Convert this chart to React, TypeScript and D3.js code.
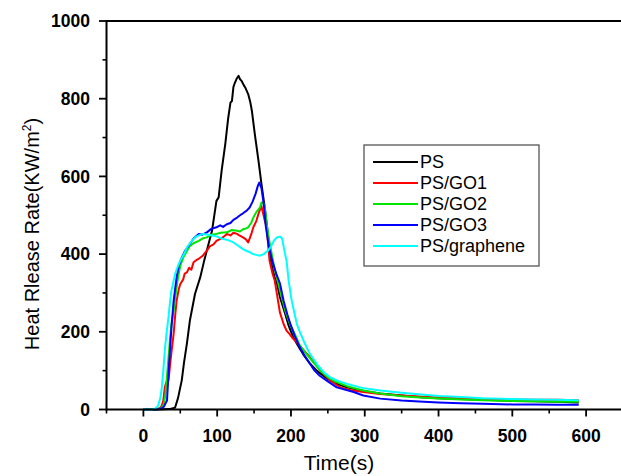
import React from "react";
import * as d3 from "d3";

const W = 621;
const H = 476;

const seriesNames = ["PS", "PS/GO1", "PS/GO2", "PS/GO3", "PS/graphene"];
const seriesColors = ["#000000", "#ff0000", "#00e600", "#0000ff", "#00ffff"];

const psData: [number, number][] = [
  [0, 0], [20, 0], [35, 1], [40, 3], [43, 5], [47, 30], [52, 75], [55, 120], [59, 170], [63, 229], [70, 298], [77, 340], [82, 380], [86, 409], [93, 460], [99, 537], [102, 546], [106, 614], [111, 684], [115, 751], [118, 790], [120, 794], [122, 830], [124, 841], [126, 850], [129, 859], [131, 850], [133, 846], [136, 835], [138, 829], [142, 812], [145, 790], [147, 769], [151, 709], [156, 640], [160, 581], [165, 512], [170, 430], [174, 370], [178, 340], [181, 325], [185, 290], [192, 247], [197, 215], [203, 186], [210, 163], [216, 144], [225, 120], [235, 100], [245, 85], [253, 75], [265, 64], [276, 57], [300, 47], [321, 41], [350, 36], [380, 31], [400, 29], [430, 27], [460, 25], [500, 22], [530, 21], [560, 20], [590, 18],
];

const go1Data: [number, number][] = [
  [0, 0], [15, 0], [22, 3], [25, 10], [27, 23], [29, 57], [31, 70], [34, 75], [37, 130], [41, 195], [43, 240], [45, 280], [48, 310], [50, 323], [54, 335], [56, 350], [59, 353], [62, 365], [65, 360], [68, 379], [72, 385], [75, 388], [80, 395], [86, 409], [90, 420], [95, 425], [99, 434], [105, 440], [109, 445], [113, 452], [118, 448], [122, 455], [127, 452], [130, 448], [135, 443], [139, 438], [142, 430], [146, 450], [149, 469], [153, 485], [156, 504], [160, 524], [164, 490], [167, 469], [171, 383], [175, 350], [178, 332], [181, 297], [185, 250], [190, 220], [194, 203], [199, 192], [203, 182], [208, 173], [216, 155], [226, 134], [235, 112], [244, 92], [255, 72], [267, 57], [280, 50], [298, 45], [321, 40], [350, 36], [380, 33], [400, 31], [430, 29], [460, 27], [500, 26], [530, 25], [560, 25], [590, 24],
];

const go2Data: [number, number][] = [
  [0, 0], [18, 0], [25, 5], [28, 15], [30, 40], [33, 110], [36, 180], [38, 220], [41, 254], [44, 300], [47, 340], [50, 370], [54, 391], [58, 405], [63, 421], [68, 428], [75, 434], [80, 440], [86, 443], [92, 450], [99, 452], [105, 455], [113, 456], [120, 462], [127, 460], [131, 458], [135, 464], [139, 466], [142, 469], [146, 480], [149, 494], [153, 508], [156, 515], [158, 520], [160, 533], [164, 528], [167, 480], [170, 440], [174, 400], [178, 360], [183, 323], [188, 285], [193, 250], [199, 218], [205, 195], [212, 165], [220, 145], [230, 122], [240, 100], [250, 83], [260, 72], [276, 60], [298, 49], [321, 41], [350, 34], [380, 30], [400, 28], [430, 26], [460, 24], [500, 22], [530, 21], [560, 20], [590, 20],
];

const go3Data: [number, number][] = [
  [0, 0], [18, 0], [25, 3], [28, 8], [32, 23], [34, 90], [36, 152], [38, 210], [41, 280], [45, 340], [48, 370], [52, 391], [57, 410], [63, 426], [68, 440], [75, 452], [80, 450], [86, 456], [92, 465], [99, 469], [104, 474], [108, 470], [113, 477], [118, 480], [122, 488], [127, 494], [131, 500], [135, 505], [140, 512], [144, 520], [148, 535], [152, 555], [155, 575], [157, 584], [160, 570], [163, 530], [166, 470], [170, 420], [175, 380], [180, 350], [185, 325], [190, 280], [195, 245], [199, 221], [205, 190], [212, 160], [219, 137], [226, 117], [232, 100], [239, 87], [248, 75], [262, 57], [285, 45], [298, 36], [321, 28], [350, 23], [380, 20], [400, 18], [430, 16], [460, 15], [500, 13], [530, 13], [560, 12], [590, 12],
];

const grapheneData: [number, number][] = [
  [0, 0], [12, 0], [16, 2], [20, 10], [23, 30], [25, 57], [27, 100], [29, 152], [31, 190], [34, 237], [36, 275], [38, 306], [43, 349], [47, 370], [50, 383], [55, 400], [59, 417], [64, 430], [70, 443], [75, 448], [81, 452], [88, 450], [95, 447], [100, 445], [108, 439], [115, 436], [122, 430], [128, 422], [135, 413], [140, 408], [145, 404], [149, 400], [153, 398], [158, 396], [163, 400], [169, 409], [173, 420], [177, 435], [181, 443], [185, 445], [188, 440], [190, 420], [192, 400], [194, 383], [197, 330], [201, 280], [205, 246], [208, 220], [213, 195], [217, 177], [225, 145], [237, 112], [245, 95], [253, 83], [262, 75], [276, 66], [298, 55], [321, 49], [350, 43], [380, 38], [400, 35], [430, 32], [460, 29], [500, 27], [530, 26], [560, 25], [590, 24],
];

const allSeries = [psData, go1Data, go2Data, go3Data, grapheneData];

const xMajorTicks = [0, 100, 200, 300, 400, 500, 600];
const xMinorTicks = [-50, 50, 150, 250, 350, 450, 550];
const yMajorTicks = [0, 200, 400, 600, 800, 1000];
const yMinorTicks = [100, 300, 500, 700, 900];

export default function App() {
  const x = d3.scaleLinear().domain([-50, 650]).range([106.5, 623]);
  const y = d3.scaleLinear().domain([0, 1000]).range([409.5, 21]);
  const line = d3
    .line<[number, number]>()
    .x((d) => x(d[0]))
    .y((d) => y(d[1]));

  const font = "Arial, 'Liberation Sans', sans-serif";
  const legendX = 364;
  const legendY = 145;

  return (
    <svg
      width={W}
      height={H}
      style={{ position: "absolute", left: 0, top: 0, background: "#fff" }}
      fontFamily={font}
    >
      <rect width={W} height={H} fill="#fff" />
      {allSeries.map((s, i) => (
        <path
          key={i}
          d={line(s) || ""}
          fill="none"
          stroke={seriesColors[i]}
          strokeWidth={2}
          strokeLinejoin="round"
        />
      ))}
      {/* frame */}
      <line x1={x(-50)} x2={W + 5} y1={y(1000)} y2={y(1000)} stroke="#000" strokeWidth={2} />
      <line x1={x(-50)} x2={W + 5} y1={y(0)} y2={y(0)} stroke="#000" strokeWidth={2} />
      <line x1={x(-50)} x2={x(-50)} y1={y(0) + 1} y2={y(1000) - 1} stroke="#000" strokeWidth={2} />
      {/* y ticks */}
      {yMajorTicks.map((t) => (
        <g key={"ym" + t}>
          <line x1={x(-50) - 7.5} x2={x(-50)} y1={y(t)} y2={y(t)} stroke="#000" strokeWidth={1.8} />
          <text x={90} y={y(t)} dy="0.36em" textAnchor="end" fontWeight="bold" fontSize={17.5}>
            {t}
          </text>
        </g>
      ))}
      {yMinorTicks.map((t) => (
        <line key={"yn" + t} x1={x(-50) - 4} x2={x(-50)} y1={y(t)} y2={y(t)} stroke="#000" strokeWidth={1.6} />
      ))}
      {/* x ticks */}
      {xMajorTicks.map((t) => (
        <g key={"xm" + t}>
          <line x1={x(t)} x2={x(t)} y1={y(0)} y2={y(0) + 7} stroke="#000" strokeWidth={1.8} />
          <text x={x(t)} y={442} textAnchor="middle" fontWeight="bold" fontSize={17.5}>
            {t}
          </text>
        </g>
      ))}
      {xMinorTicks.map((t) => (
        <line key={"xn" + t} x1={x(t)} x2={x(t)} y1={y(0)} y2={y(0) + 4} stroke="#000" strokeWidth={1.6} />
      ))}
      {/* axis titles */}
      <text x={339} y={470} textAnchor="middle" fontSize={21}>
        Time(s)
      </text>
      <text transform={`translate(39, 234) rotate(-90)`} textAnchor="middle" fontSize={20}>
        Heat Rlease Rate(KW/m
        <tspan dy={-8} fontSize={12}>2</tspan>
        <tspan dy={8}>)</tspan>
      </text>
      {/* legend */}
      <rect x={legendX} y={legendY} width={175} height={121} fill="#fff" stroke="#555" strokeWidth={1.3} />
      {seriesNames.map((n, i) => {
        const ly = 162 + i * 21;
        return (
          <g key={n}>
            <line x1={373} x2={418} y1={ly} y2={ly} stroke={seriesColors[i]} strokeWidth={2} />
            <text x={420} y={ly} dy="0.36em" fontSize={18}>
              {n}
            </text>
          </g>
        );
      })}
    </svg>
  );
}
